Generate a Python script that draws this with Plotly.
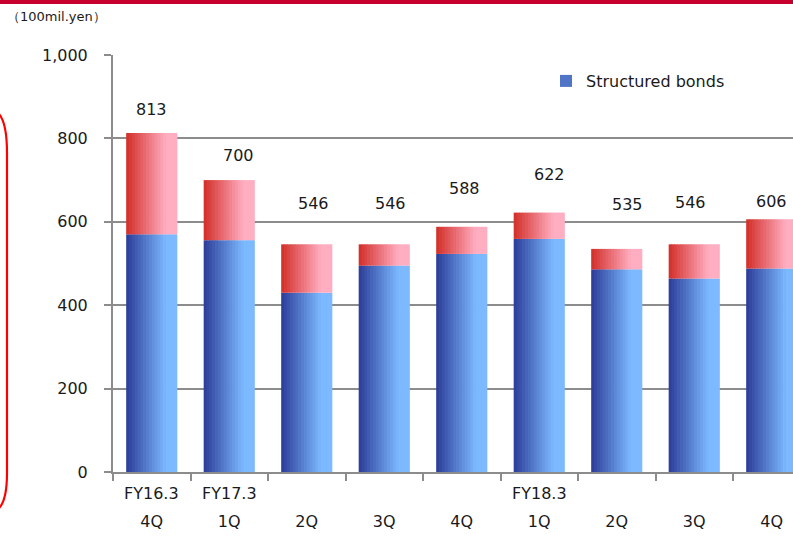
import plotly.graph_objects as go

# ---------------- data ----------------
fy_labels = ["FY16.3", "FY17.3", "", "", "", "FY18.3", "", "", ""]
quarter_labels = ["4Q", "1Q", "2Q", "3Q", "4Q", "1Q", "2Q", "3Q", "4Q"]
totals = [813, 700, 546, 546, 588, 622, 535, 546, 606]
structured_bonds = [570, 556, 430, 495, 523, 559, 486, 464, 488]
series_name = "Structured bonds"
unit_label = "（100mil.yen）"

other = [t - s for t, s in zip(totals, structured_bonds)]

# ---------------- styling ----------------
W, H = 793, 538
ML, MR, MT, MB = 113, 0, 55, 66
PW, PH = W - ML - MR, H - MT - MB
FONT = "DejaVu Sans"
TXT = "#1a1a1a"
GRID = "#8c8c8c"
BAR_W = 0.66
N_STRIPS = 18
label_yshift = [23, 25, 41, 41, 38, 38, 44, 42, 18]
label_xshift = [0, 9, 7, 6, 3, 10, 11, -4, 0]

x_idx = list(range(len(totals)))


def px_x(px):
    return (px - ML) / PW


def px_y(py):
    return (H - MB - py) / PH


def mix(c1, c2, t):
    return "rgb(%d,%d,%d)" % tuple(round(a + (b - a) * t) for a, b in zip(c1, c2))


def ease(t):
    return min(1.0, t / 0.78)


blue_l, blue_r = (44, 60, 152), (124, 185, 255)
red_l, red_r = (210, 46, 40), (255, 174, 194)

fig = go.Figure()

strip = BAR_W / N_STRIPS
for vals, base, cl, cr in [(structured_bonds, None, blue_l, blue_r),
                           (other, structured_bonds, red_l, red_r)]:
    for i in range(N_STRIPS):
        t = ease((i + 0.5) / N_STRIPS)
        col = mix(cl, cr, t)
        w = strip * (1.0 if i == N_STRIPS - 1 else 1.25)
        fig.add_trace(go.Bar(
            x=x_idx, y=vals, base=base,
            offset=-BAR_W / 2 + i * strip, width=w,
            marker=dict(color=col, line=dict(width=0)),
            showlegend=False, hoverinfo="skip",
        ))

# legend entry
fig.add_trace(go.Bar(
    x=[None], y=[None], name=series_name,
    marker=dict(color=mix(blue_l, blue_r, 0.45), line=dict(width=0)),
    showlegend=True,
))

annotations = []
for i, v in enumerate(totals):
    annotations.append(dict(
        x=i, y=v, xref="x", yref="y", text=f"{v:,}", showarrow=False,
        yshift=label_yshift[i], xshift=label_xshift[i],
        font=dict(family=FONT, size=16, color=TXT),
    ))
for i, lab in enumerate(fy_labels):
    if lab:
        annotations.append(dict(
            x=i, y=px_y(494), xref="x", yref="paper", text=lab, showarrow=False,
            yanchor="middle", font=dict(family=FONT, size=16, color=TXT),
        ))
annotations.append(dict(
    x=px_x(5), y=px_y(17), xref="paper", yref="paper", text=unit_label,
    showarrow=False, xanchor="left", yanchor="middle",
    font=dict(family=FONT, size=13, color=TXT),
))

shapes = [
    dict(type="rect", xref="paper", yref="paper",
         x0=px_x(0), x1=px_x(W), y0=px_y(4), y1=px_y(0),
         fillcolor="#c8002d", line=dict(width=0), layer="above"),
    dict(type="path", xref="paper", yref="paper",
         path=(f"M {px_x(-3)},{px_y(112)} Q {px_x(7)},{px_y(120)} {px_x(7)},{px_y(153)} "
               f"L {px_x(7)},{px_y(473)} Q {px_x(7)},{px_y(503)} {px_x(-3)},{px_y(510)}"),
         line=dict(color="#ff0000", width=2.2)),
]

fig.update_layout(
    width=W, height=H,
    margin=dict(l=ML, r=MR, t=MT, b=MB),
    barmode="overlay",
    plot_bgcolor="white", paper_bgcolor="white",
    font=dict(family=FONT, size=16, color=TXT),
    showlegend=True,
    legend=dict(x=px_x(546), y=px_y(64), xanchor="left", yanchor="top",
                bgcolor="rgba(0,0,0,0)", font=dict(family=FONT, size=16, color=TXT)),
    annotations=annotations,
    shapes=shapes,
    xaxis=dict(
        range=[-0.5, -0.5 + PW / 77.5],
        tickmode="array", tickvals=x_idx, ticktext=quarter_labels,
        ticks="", showgrid=False, zeroline=False,
        showline=True, linecolor=GRID, linewidth=2,
        ticklabelstandoff=34,
        tickfont=dict(family=FONT, size=16, color=TXT),
        minor=dict(tickmode="linear", tick0=0.5, dtick=1, ticks="outside",
                   ticklen=7, tickcolor=GRID, tickwidth=2, showgrid=False),
        fixedrange=True,
    ),
    yaxis=dict(
        range=[0, 1000], tickmode="linear", tick0=0, dtick=200, tickformat=",d",
        showgrid=True, gridcolor=GRID, gridwidth=1.5, zeroline=False,
        showline=True, linecolor=GRID, linewidth=2,
        ticks="outside", ticklen=7, tickcolor=GRID, tickwidth=1.5,
        ticklabelstandoff=13,
        tickfont=dict(family=FONT, size=16, color=TXT),
        fixedrange=True,
    ),
)

fig.write_html(
    "out.html",
    config={"displayModeBar": False},
    post_script="document.body.style.margin='0';document.body.style.overflow='hidden';",
)
